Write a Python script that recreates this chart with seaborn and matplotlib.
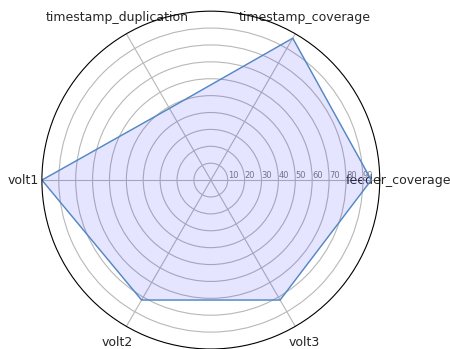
import numpy as np
import pandas as pd
import seaborn as sns
import matplotlib
matplotlib.use("Agg")
import matplotlib.pyplot as plt

categories = ["feeder_coverage", "timestamp_coverage", "timestamp_duplication",
              "volt1", "volt2", "volt3"]
scores = [95, 97, 49, 100, 82, 82]
r_ticks = [10, 20, 30, 40, 50, 60, 70, 80, 90]
r_tick_labels = ["10", "20", "30", "40", "50", "60", "70", "80", "90"]

sns.set_style("white")
plt.rcParams["font.family"] = ["DejaVu Sans"]

n = len(categories)
angles = [i / n * 2 * np.pi for i in range(n)]
# close the polygon at 2*pi so the last edge runs forward
df = pd.DataFrame({"angle": angles + [2 * np.pi], "score": scores + scores[:1]})

fig = plt.figure(figsize=(4.5, 3.49), dpi=100)
ax = fig.add_axes([0.093, 0.0, 0.751, 0.968], projection="polar")

sns.lineplot(data=df, x="angle", y="score", sort=False, estimator=None, ax=ax,
             color="#5289c0", linewidth=1)
ax.fill(df["angle"].values, df["score"].values, color="b", alpha=0.1)

ax.set_xticks(angles)
ax.set_xticklabels(categories, fontsize=9)
ax.tick_params(axis="x", pad=3)
ax.set_yticks(r_ticks)
ax.set_yticklabels(r_tick_labels, color="grey", fontsize=6)
ax.set_rlabel_position(0)
ax.set_ylim(0, 100)
ax.set_xlabel("")
ax.set_ylabel("")
ax.grid(True, color="#b8b8b8", linewidth=0.8)
ax.spines["polar"].set_color("black")
ax.spines["polar"].set_linewidth(0.8)

fig.savefig("out.png", dpi=100)
